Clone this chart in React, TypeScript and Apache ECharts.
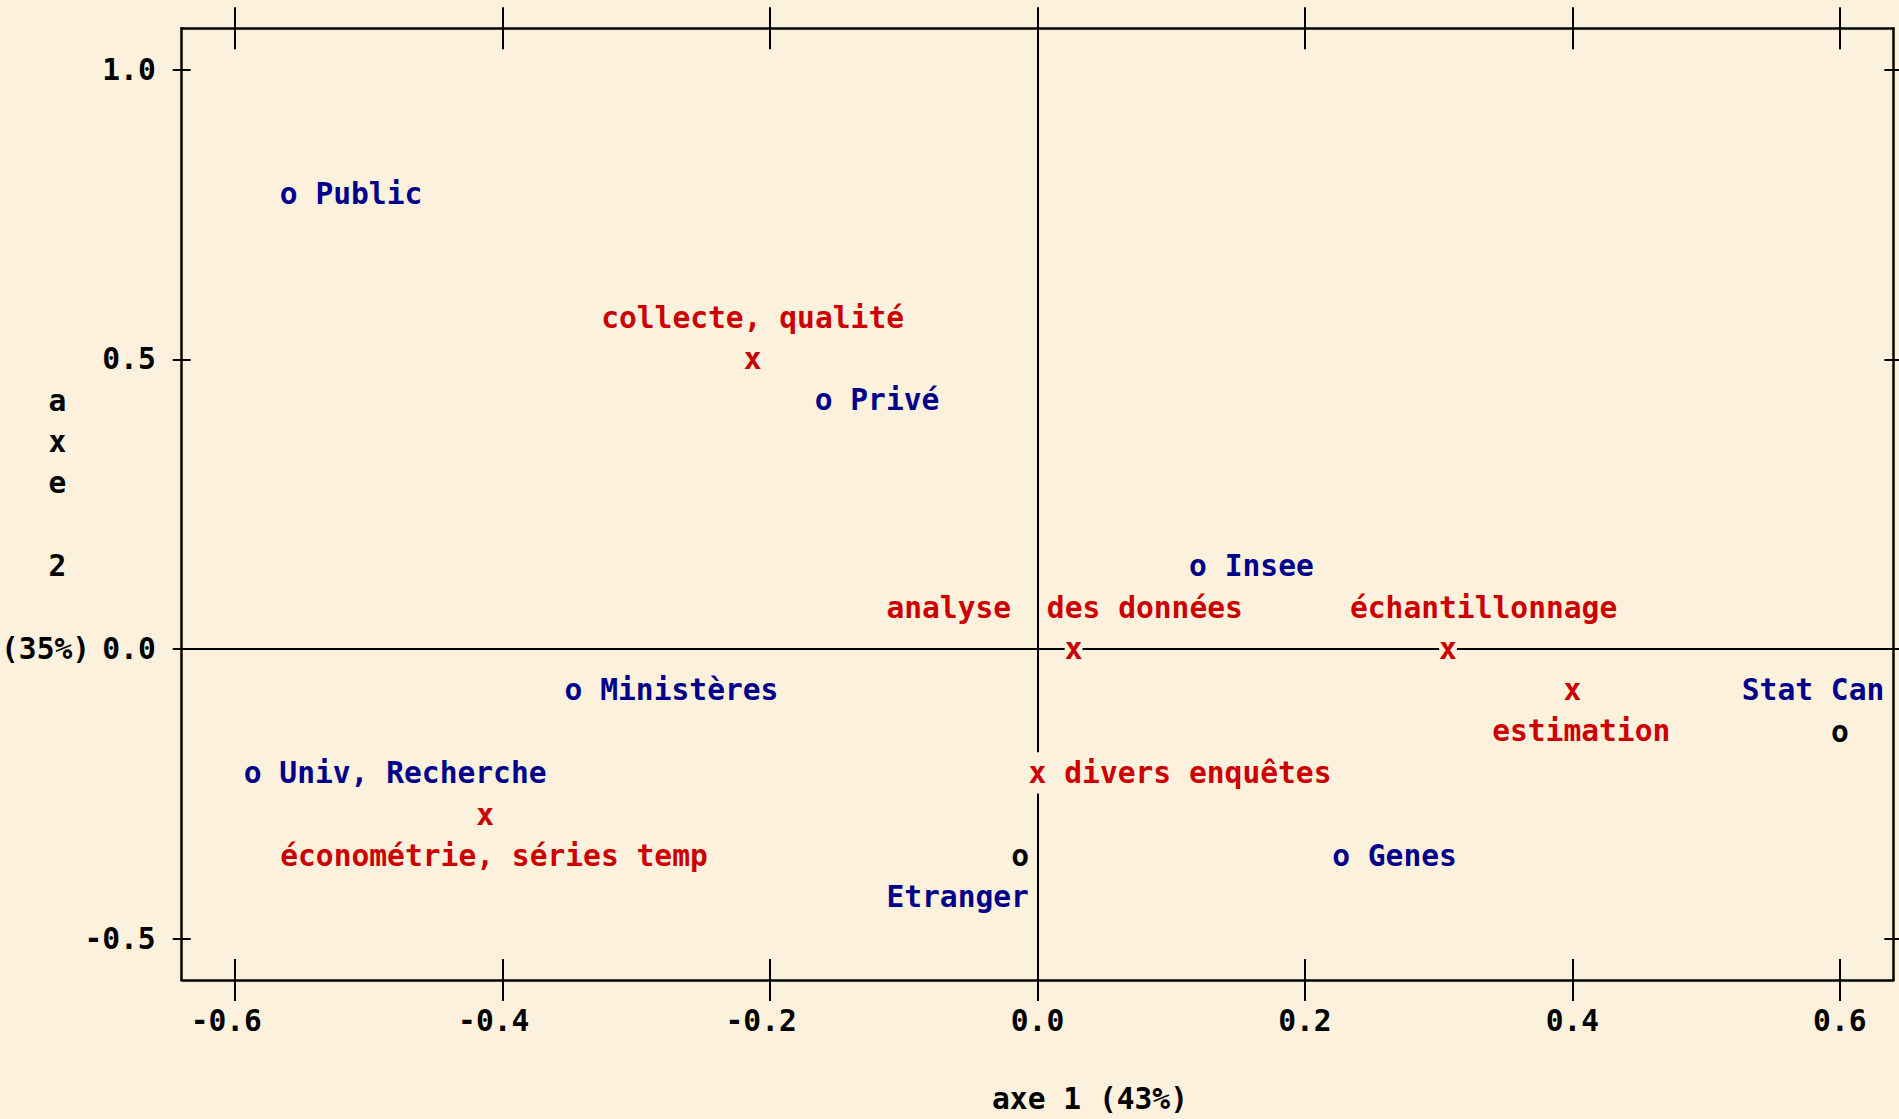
import React, { useEffect, useRef } from "react";
import * as echarts from "echarts";

// ---- data ----
const rowLabels = ["Public", "Privé", "Insee", "Ministères", "Univ, Recherche", "Genes", "Etranger", "Stat Can"];
const rowX = [-0.56, -0.16, 0.12, -0.347, -0.587, 0.227, -0.013, 0.6];
const rowY = [0.786, 0.429, 0.143, -0.071, -0.214, -0.357, -0.357, -0.143];

const colLabels = ["collecte, qualité", "analyse des données", "échantillonnage", "estimation", "divers enquêtes", "économétrie, séries temp"];
const colX = [-0.213, 0.027, 0.307, 0.4, 0.0, -0.413];
const colY = [0.5, 0.0, 0.0, -0.071, -0.214, -0.286];

const xTicks = [-0.6, -0.4, -0.2, 0, 0.2, 0.4, 0.6];
const yTicks = [-0.5, 0, 0.5, 1.0];
const xTitle = "axe 1 (43%)";
const yTitleChars = ["a", "x", "e", "2"];
const yTitleTail = "(35%)";

// ---- layout (character cells of the line-printer plot) ----
const CELL_X = 0.2 / 15; // one column in x units
const CELL_Y = 1 / 14; // one row in y units
const X_MIN = -0.64, X_MAX = 0.64;
const Y_MIN = -8 / 14, Y_MAX = 15 / 14;
const rowPlace = [
  { dx: 2, dy: 0 }, { dx: 2, dy: 0 }, { dx: 2, dy: 0 }, { dx: 2, dy: 0 },
  { dx: 2, dy: 0 }, { dx: 2, dy: 0 }, { dx: -7, dy: -1, black: true }, { dx: -5, dy: 1, black: true },
];
const colPlace = [
  { dx: -8, dy: 1 }, { dx: -10, dy: 1, gap: 1 }, { dx: -5, dy: 1 }, { dx: -4, dy: -1 },
  { dx: 2, dy: 0 }, { dx: -11, dy: -1 },
];

const W = 1899, H = 1119;
const G_LEFT = 181.7, G_TOP = 28.3, G_RIGHT = 5.7, G_BOTTOM = 139;
const BG = "#FBF1DC";
const BLUE = "#00008B";
const RED = "#CC0000";
const FONT = "DejaVu Sans Mono";
const FS = 29.6;
const CW = FS * 0.602;

const plotH = H - G_TOP - G_BOTTOM;
const yPix = (r: number) => G_TOP + ((Y_MAX - r * CELL_Y) / (Y_MAX - Y_MIN)) * plotH;

const txt = (text: string, fill: string) => ({
  text, fill, fontFamily: FONT, fontSize: FS, fontWeight: "bold",
});

const renderItem = (params: any, api: any) => {
  const kind = api.value(2);
  const idx = api.value(3);
  const p = api.coord([api.value(0), api.value(1)]);
  const sz = api.size([CELL_X, CELL_Y]);
  const cw = sz[0], rh = sz[1];
  const isRow = kind === 0;
  const place: any = isRow ? rowPlace[idx] : colPlace[idx];
  const label = isRow ? rowLabels[idx] : colLabels[idx];
  const color = isRow ? BLUE : RED;
  const symColor = isRow ? (place.black ? "#000" : BLUE) : RED;
  const children: any[] = [
    { type: "rect", z2: 0, shape: { x: p[0] - cw / 2, y: p[1] - rh / 2, width: cw, height: rh }, style: { fill: BG } },
    { type: "text", z2: 10, x: p[0], y: p[1], style: { ...txt(isRow ? "o" : "x", symColor), align: "center", verticalAlign: "middle" } },
  ];
  const ly = p[1] - place.dy * rh;
  if (place.gap) {
    const sp = label.indexOf(" ");
    const a = label.slice(0, sp), b = label.slice(sp + 1);
    children.push({ type: "text", z2: 10, x: p[0] + (place.dx - 0.5) * cw, y: ly, style: { ...txt(a, color), align: "left", verticalAlign: "middle" } });
    children.push({ type: "text", z2: 10, x: p[0] + (place.dx + sp + 1 + place.gap - 0.5) * cw, y: ly, style: { ...txt(b, color), align: "left", verticalAlign: "middle" } });
  } else {
    children.push({ type: "text", z2: 10, x: p[0] + (place.dx - 0.5) * cw, y: ly, style: { ...txt(label, color), align: "left", verticalAlign: "middle" } });
  }
  return { type: "group", children };
};

const tickStyle = { color: "#000", width: 2 };
const lineStyle = { color: "#000", width: 2.5 };
const baseX = (gridIndex: number, position: string, inside: boolean, showLine: boolean, showLabel: boolean) => ({
  type: "value", gridIndex, position, min: X_MIN, max: X_MAX,
  axisLine: { show: showLine, onZero: false, lineStyle },
  axisTick: { show: true, inside, length: 21, lineStyle: tickStyle, customValues: xTicks },
  axisLabel: {
    show: showLabel, customValues: xTicks, margin: 41, verticalAlign: "middle",
    formatter: (v: number) => (v < 0 ? `{n|${v.toFixed(1)}}` : `{p|${v.toFixed(1)}}`),
    rich: {
      n: { fontFamily: FONT, fontSize: FS, fontWeight: "bold", color: "#000", padding: [0, CW, 0, 0] },
      p: { fontFamily: FONT, fontSize: FS, fontWeight: "bold", color: "#000" },
    },
  },
  splitLine: { show: false },
});
const baseY = (gridIndex: number, position: string, inside: boolean, showLine: boolean, showLabel: boolean) => ({
  type: "value", gridIndex, position, min: Y_MIN, max: Y_MAX,
  axisLine: { show: showLine, onZero: false, lineStyle },
  axisTick: { show: true, inside, length: 9, lineStyle: tickStyle, customValues: yTicks },
  axisLabel: {
    show: showLabel, customValues: yTicks, margin: 26,
    formatter: (v: number) => v.toFixed(1),
    fontFamily: FONT, fontSize: FS, fontWeight: "bold", color: "#000",
  },
  splitLine: { show: false },
});

const data = [
  ...rowLabels.map((_, i) => [rowX[i], rowY[i], 0, i]),
  ...colLabels.map((_, i) => [colX[i], colY[i], 1, i]),
];

const option: any = {
  animation: false,
  backgroundColor: BG,
  grid: [
    { left: G_LEFT, top: G_TOP, right: G_RIGHT, bottom: G_BOTTOM },
    { left: G_LEFT, top: G_TOP, right: G_RIGHT, bottom: G_BOTTOM },
  ],
  xAxis: [
    baseX(0, "bottom", false, true, true),
    baseX(0, "top", false, true, false),
    baseX(1, "bottom", true, false, false),
    baseX(1, "top", true, false, false),
  ],
  yAxis: [
    baseY(0, "left", false, true, true),
    baseY(0, "right", false, true, false),
    baseY(1, "left", true, false, false),
    baseY(1, "right", true, false, false),
  ],
  graphic: [
    ...yTitleChars.map((c, i) => ({
      type: "text", x: 57.5, y: yPix([6, 5, 4, 2][i]),
      style: { ...txt(c, "#000"), align: "center", verticalAlign: "middle" },
    })),
    { type: "text", x: 1, y: yPix(0), style: { ...txt(yTitleTail, "#000"), align: "left", verticalAlign: "middle" } },
    { type: "text", x: 1090, y: 1099, style: { ...txt(xTitle, "#000"), align: "center", verticalAlign: "middle" } },
  ],
  series: [
    {
      type: "scatter", xAxisIndex: 0, yAxisIndex: 0, z: 1, symbolSize: 0, silent: true,
      data: data.map((d) => [d[0], d[1]]),
      markLine: {
        silent: true, symbol: "none", label: { show: false },
        lineStyle: { color: "#000", width: 2, type: "solid" },
        data: [{ xAxis: 0 }, { yAxis: 0 }],
      },
    },
    {
      type: "custom", xAxisIndex: 0, yAxisIndex: 0, z: 5, clip: false,
      encode: { x: 0, y: 1 },
      renderItem, data,
    },
  ],
};

export default function App() {
  const ref = useRef<HTMLDivElement>(null);
  useEffect(() => {
    document.body.style.margin = "0";
    const chart = echarts.init(ref.current!, null, { renderer: "svg" });
    chart.setOption(option);
    return () => chart.dispose();
  }, []);
  return <div ref={ref} style={{ width: W, height: H }} />;
}
